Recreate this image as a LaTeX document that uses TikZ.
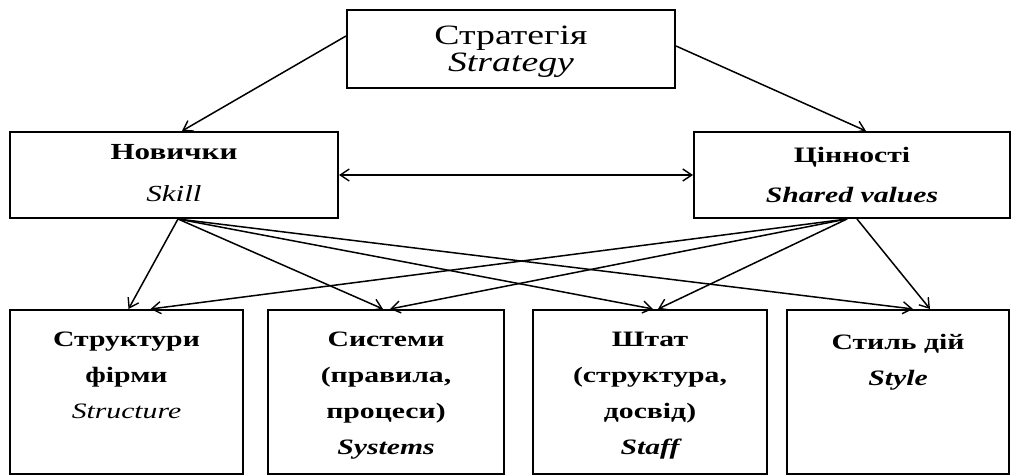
\documentclass[tikz,border=0pt]{standalone}
\usepackage{fontspec}
\setmainfont{Liberation Serif}[FakeStretch=1.35]
\usetikzlibrary{arrows.meta}
\begin{document}
\begin{tikzpicture}[x=1pt,y=-1pt,
  box/.style={draw,line width=2pt,inner sep=0pt},
  txt/.style={align=center,inner sep=0pt,anchor=north},
  arr/.style={line width=1.5pt,-{Straight Barb[length=9pt,width=12pt,line width=1.4pt]}},
  darr/.style={line width=1.5pt,{Straight Barb[length=9pt,width=12pt,line width=1.4pt]}-{Straight Barb[length=9pt,width=12pt,line width=1.4pt]}}]
\useasboundingbox (0,0) rectangle (1011,476);
\fontsize{22}{26}\selectfont
% boxes
\node[box,minimum width=328pt,minimum height=78pt] (strat) at (511,49) {};
\node[box,minimum width=328pt,minimum height=86pt] (skill) at (174,175) {};
\node[box,minimum width=316pt,minimum height=86pt] (values) at (852,175) {};
\node[box,minimum width=233pt,minimum height=164pt] (structure) at (126.5,392) {};
\node[box,minimum width=236pt,minimum height=164pt] (systems) at (386,392) {};
\node[box,minimum width=234pt,minimum height=164pt] (staff) at (650,392) {};
\node[box,minimum width=222pt,minimum height=164pt] (style) at (898,392) {};
% texts
\node[txt,font=\fontsize{28}{27}\selectfont] (tstrat) at (511,26) {Стратегія\\\textit{Strategy}};
\node[txt,font=\fontsize{23}{42}\selectfont\bfseries] (tskill) at (174,144) {Новички\\\mdseries\itshape Skill};
\node[txt,font=\fontsize{22}{40}\selectfont\bfseries] (tvalues) at (852,147) {Цінності\\\itshape Shared values};
\node[txt,font=\fontsize{22}{36}\selectfont\bfseries] (tstructure) at (126.5,332) {Структури\\фірми\\\mdseries\itshape Structure};
\node[txt,font=\fontsize{22}{36}\selectfont\bfseries] (tsystems) at (386,332) {Системи\\(правила,\\процеси)\\\itshape Systems};
\node[txt,font=\fontsize{22}{36}\selectfont\bfseries] (tstaff) at (650,332) {Штат\\(структура,\\досвід)\\\itshape Staff};
\node[txt,font=\fontsize{22}{36}\selectfont\bfseries] (tstyle) at (898,334) {Стиль дій\\\itshape Style};
% connectors
\draw[arr] ([yshift=13pt]strat.west) -- ([xshift=8pt]skill.north);
\draw[arr] ([yshift=3pt]strat.east) -- ([xshift=14pt]values.north);
\draw[darr] (skill.east) -- (values.west);
\draw[arr] ([xshift=4pt]skill.south) -- ([xshift=2pt]structure.north);
\draw[arr] ([xshift=4pt]skill.south) -- ([xshift=-3pt]systems.north);
\draw[arr] ([xshift=4pt]skill.south) -- ([xshift=3pt]staff.north);
\draw[arr] ([xshift=4pt]skill.south) -- ([xshift=15pt]style.north);
\draw[arr] ([xshift=-5pt]values.south) -- ([xshift=24pt]structure.north);
\draw[arr] ([xshift=-5pt]values.south) -- ([xshift=4pt]systems.north);
\draw[arr] ([xshift=-5pt]values.south) -- ([xshift=8pt]staff.north);
\draw[arr] ([xshift=5pt]values.south) -- ([xshift=32pt]style.north);
\end{tikzpicture}
\end{document}
